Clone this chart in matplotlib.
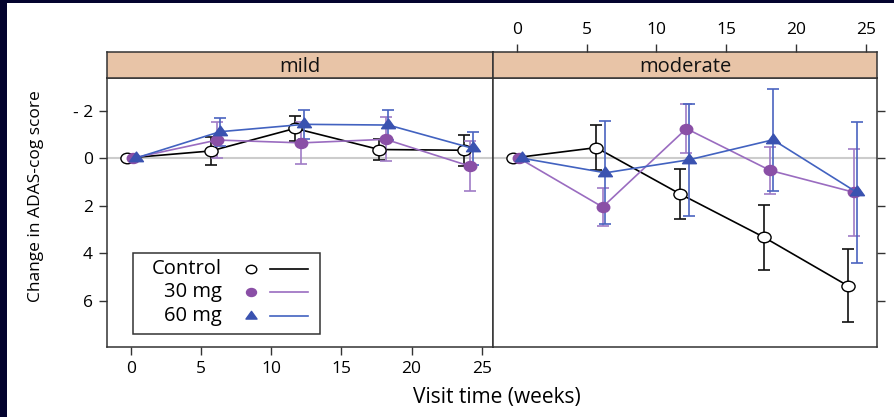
import matplotlib
matplotlib.use("Agg")
import matplotlib.pyplot as plt
import numpy as np
from matplotlib.patches import Rectangle
from matplotlib.lines import Line2D
from matplotlib.path import Path
from matplotlib.transforms import Affine2D

plt.rcParams['font.family'] = ['Open Sans', 'DejaVu Sans']

# ---------------- data ----------------
panels = ["mild", "moderate"]
groups = ["Control", "30 mg", "60 mg"]
weeks = [0, 6, 12, 18, 24]

mild_control = [0, -0.30, -1.25, -0.36, -0.33]
mild_control_err = [0, 0.60, 0.53, 0.43, 0.66]
mild_30 = [0, -0.76, -0.64, -0.79, 0.34]
mild_30_err = [0, 0.75, 0.89, 0.92, 1.05]
mild_60 = [0, -1.11, -1.42, -1.39, -0.41]
mild_60_err = [0, 0.59, 0.62, 0.62, 0.69]

mod_control = [0, -0.44, 1.51, 3.33, 5.37]
mod_control_err = [0, 0.95, 1.06, 1.36, 1.54]
mod_30 = [0, 2.06, -1.24, 0.52, 1.44]
mod_30_err = [0, 0.78, 1.02, 1.00, 1.83]
mod_60 = [0, 0.62, 0.07, -0.77, 1.44]
mod_60_err = [0, 2.16, 2.36, 2.14, 2.96]

x_ticks = [0, 5, 10, 15, 20, 25]
y_ticks = [-2, 0, 2, 4, 6]
y_ticklabels = ["- 2", "0", "2", "4", "6"]

data = {
    "mild": [(mild_control, mild_control_err), (mild_30, mild_30_err), (mild_60, mild_60_err)],
    "moderate": [(mod_control, mod_control_err), (mod_30, mod_30_err), (mod_60, mod_60_err)],
}

# ---------------- styles ----------------
stretch = Affine2D().scale(1.25, 1.0)
ell = stretch.transform_path(Path.unit_circle())
tri = stretch.transform_path(Path([(0, 1), (-0.866, -0.5), (0.866, -0.5), (0, 1)],
                                  [Path.MOVETO, Path.LINETO, Path.LINETO, Path.CLOSEPOLY]))
dodge = [-0.3, 0.15, 0.35]
marker = [ell, ell, tri]
mface = ['white', '#8a4fa6', '#3a52b0']
medge = ['black', '#8a4fa6', '#3a52b0']
lcol = ['black', '#9a6cc0', '#4262c0']
ecol = ['#111111', '#a07cc6', '#4a64c0']
msize = [9.5, 9.0, 10.0]

W, H = 894, 417
fig = plt.figure(figsize=(W / 100, H / 100), dpi=100)
fig.patch.set_facecolor('white')

def fx(px):
    return px / W

def fy(py):
    return 1 - py / H

body_top, body_bot = 78, 347
strip_top = 52
lefts = [107, 493]
rights = [493, 877]
xlim = (-1.7, 25.8)
ylim = (7.95, -3.37)
frame_col = '#333333'
tick_fs = 12.5

for i, name in enumerate(panels):
    ax = fig.add_axes([fx(lefts[i]), fy(body_bot), fx(rights[i] - lefts[i]),
                       (body_bot - body_top) / H])
    sax = fig.add_axes([fx(lefts[i]), fy(body_top), fx(rights[i] - lefts[i]),
                        (body_top - strip_top) / H])
    ax.set_xlim(*xlim)
    ax.set_ylim(*ylim)
    sax.set_xlim(*xlim)
    sax.set_ylim(0, 1)
    sax.set_facecolor('#e8c4a7')
    sax.text(0.5, 0.42, name, transform=sax.transAxes, ha='center', va='center',
             fontsize=14.5, color='#111111')
    for a in (ax, sax):
        for sp in a.spines.values():
            sp.set_color(frame_col)
            sp.set_linewidth(1.1)

    ax.axhline(0, color='#cccccc', lw=1.5, zorder=1)

    for g in range(3):
        vals, errs = data[name][g]
        xs = np.array(weeks, dtype=float) + dodge[g]
        v = np.array(vals, dtype=float)
        e = np.array(errs, dtype=float)
        m = e > 0
        ax.errorbar(xs[m], v[m], yerr=e[m], fmt='none', ecolor=ecol[g],
                    elinewidth=1.2, capsize=4.5, capthick=1.2, zorder=2 + g)
        ax.plot(xs, v, color=lcol[g], lw=1.2, zorder=3 + g)
        ax.plot(xs, v, linestyle='none', marker=marker[g], markersize=msize[g],
                markerfacecolor=mface[g], markeredgecolor=medge[g],
                markeredgewidth=1.0, zorder=4 + g)

    # ticks
    sax.set_yticks([])
    ax.tick_params(direction='out', length=6, width=1.0, color=frame_col,
                   labelsize=tick_fs, pad=4)
    sax.tick_params(direction='out', length=6, width=1.0, color=frame_col,
                    labelsize=tick_fs, pad=4)
    ax.set_yticks(y_ticks)
    ax.set_xticks(x_ticks)
    sax.set_xticks(x_ticks)
    if i == 0:
        ax.set_yticklabels(y_ticklabels)
        ax.tick_params(axis='y', left=True, right=False, labelleft=True)
        ax.tick_params(axis='x', bottom=True, labelbottom=True, top=False)
        sax.tick_params(axis='x', top=False, bottom=False, labeltop=False, labelbottom=False)
        # legend (manual, lattice-style key)
        bx0, by0, bw, bh = 0.068, 0.05, 0.483, 0.30
        ax.add_patch(Rectangle((bx0, by0), bw, bh, transform=ax.transAxes,
                               facecolor='white', edgecolor=frame_col, lw=1.1,
                               zorder=10))
        for g in range(3):
            yy = by0 + bh * (0.80 - 0.29 * g)
            ax.text(0.297, yy, groups[g], transform=ax.transAxes, ha='right',
                    va='center', fontsize=14.5, zorder=11)
            ax.add_line(Line2D([0.372], [yy], transform=ax.transAxes,
                               marker=marker[g], markersize=msize[g] * 0.8,
                               markerfacecolor=mface[g], markeredgecolor=medge[g],
                               markeredgewidth=1.0, linestyle='none', zorder=11))
            ax.add_line(Line2D([0.423, 0.522], [yy, yy], transform=ax.transAxes,
                               color=lcol[g], lw=1.2, zorder=11))
    else:
        ax.tick_params(axis='y', left=False, right=True, labelleft=False, labelright=False)
        ax.tick_params(axis='x', bottom=False, labelbottom=False, top=False)
        sax.tick_params(axis='x', top=True, bottom=False, labeltop=True, labelbottom=False)

fig.text(fx(497), fy(397), "Visit time (weeks)", ha='center', va='center', fontsize=15)
fig.text(fx(36), fy(196), "Change in ADAS-cog score", ha='center', va='center',
         rotation=90, fontsize=12.5)

# dark presentation border
fig.patches.append(Rectangle((0, 0), 7 / W, 1, transform=fig.transFigure,
                             facecolor='#03032e', edgecolor='none', zorder=100))
fig.patches.append(Rectangle((0, 1 - 3 / H), 1, 3 / H, transform=fig.transFigure,
                             facecolor='#03032e', edgecolor='none', zorder=100))

fig.savefig("out.png", dpi=100, facecolor=fig.get_facecolor())
